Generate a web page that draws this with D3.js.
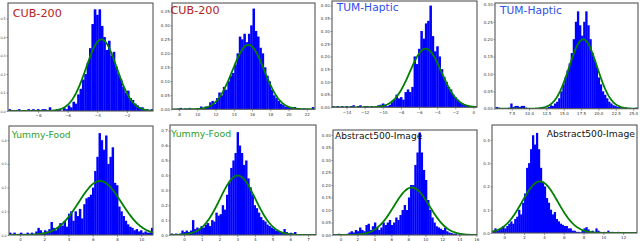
<!DOCTYPE html>
<html>
<head>
<meta charset="utf-8">
<script src="https://cdn.jsdelivr.net/npm/d3@7"></script>
<style>
body { margin: 0; background: #fff; }
svg { display: block; }
.tick text { font-family: "DejaVu Sans", sans-serif; font-size: 4px; fill: #333; }
.tick line { stroke: #555; stroke-width: 0.6; }
</style>
</head>
<body>
<svg id="chart" width="640" height="241"></svg>
<script>
// panel titles and colours
var titles = ["CUB-200", "CUB-200", "TUM-Haptic", "TUM-Haptic",
              "Yummy-Food", "Yummy-Food", "Abstract500-Image", "Abstract500-Image"];

// histogram bins: first edge, bin width, density per bin
var binStart = [-10.0, 7.3, -15.6, 5.2, -0.9, -0.75, -0.8, -1.2];
var binWidth = [0.16, 0.25, 0.25, 0.3, 0.18, 0.12, 0.25, 0.2];

var cubA = [0.01,0,0,0,0.01,0,0,0,0.01,0,
  0.01,0,0.01,0,0.01,0.01,0,0.02,0,0,
  0.01,0.01,0,0.02,0.01,0.03,0.02,0.05,0.04,0.09,
  0.12,0.17,0.2,0.26,0.34,0.47,0.55,0.52,0.55,0.46,
  0.4,0.33,0.38,0.3,0.32,0.24,0.2,0.17,0.13,0.1,
  0.11,0.07,0.06,0.04,0.03,0.02,0.02,0.01,0.01,0,0.01];
var cubB = [0,0,0.003,0.005,0,0.003,0,0.005,0,0,
  0.003,0,0.01,0.005,0.01,0.01,0.025,0.03,0.02,0.04,
  0.06,0.05,0.08,0.07,0.1,0.12,0.13,0.16,0.2,0.26,
  0.25,0.27,0.24,0.27,0.3,0.36,0.28,0.26,0.22,0.2,
  0.15,0.12,0.1,0.07,0.05,0.04,0.03,0.02,0.015,0.01,
  0.01,0.008,0.005,0.008,0,0.003,0,0.003,0,0,
  0,0.008];
var tumA = [0.005,0,0.005,0,0.005,0,0.005,0,0.005,0.008,
  0,0.005,0.008,0,0.005,0.005,0,0.005,0,0.005,
  0.008,0.01,0.015,0.01,0.005,0.01,0.02,0.03,0.05,0.035,
  0.04,0.03,0.06,0.07,0.06,0.08,0.2,0.17,0.23,0.3,
  0.27,0.33,0.34,0.4,0.28,0.22,0.24,0.2,0.15,0.12,
  0.1,0.08,0.07,0.05,0.04,0.03,0.02,0.015,0.01,0.008,
  0.005,0.005,0,0.005];
var tumB = [0.005,0.003,0,0,0,0,0.003,0.015,0.005,0.008,
  0.008,0.005,0.008,0.008,0.003,0,0,0,0,0,
  0,0.003,0.005,0,0.003,0.005,0.01,0.008,0.015,0.02,
  0.03,0.05,0.07,0.09,0.11,0.13,0.16,0.2,0.25,0.28,
  0.24,0.21,0.25,0.28,0.24,0.2,0.16,0.14,0.12,0.09,
  0.07,0.05,0.04,0.03,0.02,0.015,0.01,0.008,0.005,0.005,
  0.003,0,0.003,0,0,0,0,0.003];
var yumA = [0.01,0.005,0.01,0,0.005,0.01,0.005,0.005,0.01,0.005,
  0.01,0.005,0.015,0.03,0.02,0.01,0.02,0.015,0.025,0.055,
  0.03,0.02,0.03,0.05,0.04,0.06,0.035,0.09,0.1,0.06,
  0.1,0.08,0.11,0.07,0.13,0.155,0.16,0.17,0.2,0.27,
  0.33,0.43,0.4,0.36,0.42,0.3,0.33,0.37,0.22,0.21,
  0.12,0.1,0.08,0.06,0.045,0.035,0.03,0.02,0.025,0.015,
  0.02,0.01,0.015,0.01,0.01,0.03];
var yumB = [0.01,0.005,0.01,0.005,0.01,0.03,0.02,0.03,0.02,0.03,
  0.1,0.04,0.05,0.04,0.06,0.05,0.07,0.08,0.06,0.1,
  0.09,0.15,0.13,0.14,0.2,0.17,0.27,0.35,0.45,0.5,
  0.55,0.69,0.6,0.55,0.47,0.5,0.38,0.32,0.27,0.2,
  0.18,0.15,0.12,0.1,0.09,0.07,0.06,0.05,0.04,0.03,
  0.03,0.02,0.02,0.04,0.02,0.01,0.015,0.01,0.02,0.005,
  0.005,0,0.003,0,0,0.003,0,0.003];
var absA = [0.003,0,0.005,0,0.003,0,0.005,0.01,0.015,0.01,
  0.02,0.015,0.03,0.02,0.015,0.04,0.045,0.02,0.035,0.05,
  0.03,0.02,0.03,0.05,0.04,0.05,0.06,0.04,0.05,0.07,
  0.06,0.08,0.1,0.12,0.1,0.15,0.2,0.2,0.28,0.33,
  0.41,0.33,0.26,0.22,0.14,0.1,0.07,0.05,0.035,0.03,
  0.025,0.02,0.03,0.015,0.01,0.008,0.005,0.005,0,0.005,
  0,0.003,0,0,0.003,0,0.003];
var absB = [0.01,0.02,0.01,0.015,0.02,0.03,0.02,0.03,0.04,0.05,
  0.04,0.06,0.07,0.1,0.08,0.13,0.17,0.28,0.3,0.36,
  0.42,0.38,0.43,0.36,0.28,0.22,0.2,0.15,0.13,0.1,
  0.08,0.09,0.06,0.05,0.04,0.035,0.03,0.03,0.02,0.02,
  0.01,0.01,0.005,0.005,0.003,0.01,0.02,0.025,0.015,0.005,
  0.01,0.005,0.02,0.01,0.005,0,0.005,0,0.01,0,
  0.005,0,0,0.005,0,0,0.003,0,0.003,0,
  0,0.003];
var heights = [cubA, cubB, tumA, tumB, yumA, yumB, absA, absB];

// fitted normal curves
var fitMean  = [-3.72, 15.6, -5.27, 17.8, 6.6, 3.03, 8.4, 3.6];
var fitSigma = [1.03, 1.73, 1.73, 2.0, 1.75, 1.0, 2.1, 1.8];

// axis ranges and ticks
var xDomains = [[-10.03, -0.24], [7.23, 22.9], [-15.6, 0.4], [5.1, 25.7],
                [-0.9, 10.97], [-0.79, 7.45], [-0.87, 16.08], [-1.24, 13.4]];
var yTops = [0.584, 0.38, 0.418, 0.304, 0.46, 0.738, 0.42, 0.464];
var xTicks = [[-8,-6,-4,-2], [8,10,12,14,16,18,20,22], [-14,-12,-10,-8,-6,-4,-2,0],
              [7.5,10,12.5,15,17.5,20,22.5,25], [0,2,4,6,8,10], [0,1,2,3,4,5,6,7],
              [0,2,4,6,8,10,12,14,16], [0,2,4,6,8,10,12]];
var yTicks = [[0,0.1,0.2,0.3,0.4,0.5], [0,0.05,0.1,0.15,0.2,0.25,0.3,0.35],
              [0,0.05,0.1,0.15,0.2,0.25,0.3,0.35,0.4], [0,0.05,0.1,0.15,0.2,0.25,0.3],
              [0,0.1,0.2,0.3,0.4], [0,0.1,0.2,0.3,0.4,0.5,0.6,0.7],
              [0,0.05,0.1,0.15,0.2,0.25,0.3,0.35,0.4], [0,0.1,0.2,0.3,0.4]];
var xFmt = ["d", "d", "d", ".1f", "d", "d", "d", "d"];
var yFmt = [".1f", ".2f", ".2f", ".2f", ".1f", ".1f", ".2f", ".1f"];

// layout (pixels)
var boxes = [
  { l: 8,   t: 3,   r: 153, b: 111 },
  { l: 172, t: 3,   r: 315, b: 109.3 },
  { l: 332, t: 1,   r: 477, b: 107.3 },
  { l: 495, t: 3,   r: 638, b: 108.7 },
  { l: 9,   t: 126, r: 153, b: 235 },
  { l: 170, t: 125, r: 316, b: 235 },
  { l: 333, t: 130, r: 477, b: 235 },
  { l: 492, t: 125, r: 637, b: 233 }
];
var titleStyle = [
  { x: 12.7, y: 16.5, size: 11.2, color: "#b22222" },
  { x: 170.5, y: 14, size: 11.2, color: "#b22222" },
  { x: 336.7, y: 10.7, size: 10.7, color: "#2f4fe8" },
  { x: 500, y: 14, size: 10.7, color: "#2f4fe8" },
  { x: 11.7, y: 138.3, size: 9.2, color: "#2ca02c" },
  { x: 171, y: 136.7, size: 9.4, color: "#2ca02c" },
  { x: 335, y: 139.3, size: 9.1, color: "#111" },
  { x: 546.7, y: 136.7, size: 9.2, color: "#111" }
];

var svg = d3.select("#chart");
svg.append("rect").attr("width", 640).attr("height", 241).attr("fill", "#fff");

titles.forEach(function (title, p) {
  var box = boxes[p];
  var x = d3.scaleLinear().domain(xDomains[p]).range([box.l, box.r]);
  var y = d3.scaleLinear().domain([0, yTops[p]]).range([box.b, box.t]);
  var g = svg.append("g");

  g.append("clipPath").attr("id", "clip" + p)
    .append("rect")
    .attr("x", box.l).attr("y", box.t)
    .attr("width", box.r - box.l).attr("height", box.b - box.t);

  var plot = g.append("g").attr("clip-path", "url(#clip" + p + ")");

  // histogram bars
  plot.selectAll("rect.bar")
    .data(heights[p])
    .enter()
    .append("rect")
    .attr("class", "bar")
    .attr("x", function (d, i) { return x(binStart[p] + i * binWidth[p]); })
    .attr("width", function (d, i) {
      return x(binStart[p] + (i + 1) * binWidth[p]) - x(binStart[p] + i * binWidth[p]) + 0.25;
    })
    .attr("y", function (d) { return y(d); })
    .attr("height", function (d) { return box.b - y(d); })
    .attr("fill", "#0000ff");

  // fitted normal
  var mu = fitMean[p], sd = fitSigma[p];
  var xs = d3.range(0, 241).map(function (k) {
    return xDomains[p][0] + k * (xDomains[p][1] - xDomains[p][0]) / 240;
  });
  var line = d3.line()
    .x(function (v) { return x(v); })
    .y(function (v) {
      return y(Math.exp(-0.5 * Math.pow((v - mu) / sd, 2)) / (sd * Math.sqrt(2 * Math.PI)));
    });
  plot.append("path")
    .datum(xs)
    .attr("d", line)
    .attr("fill", "none")
    .attr("stroke", "#008000")
    .attr("stroke-width", 1.8);

  // axes
  var xAxis = d3.axisBottom(x).tickValues(xTicks[p]).tickSize(2).tickPadding(1.5)
    .tickFormat(d3.format(xFmt[p]));
  var yAxis = d3.axisLeft(y).tickValues(yTicks[p]).tickSize(1.5).tickPadding(0.8)
    .tickFormat(d3.format(yFmt[p]));
  g.append("g").attr("transform", "translate(0," + box.b + ")").call(xAxis)
    .call(function (a) { a.select(".domain").remove(); });
  var ya = g.append("g").attr("transform", "translate(" + box.l + ",0)").call(yAxis)
    .call(function (a) { a.select(".domain").remove(); });
  // the first panel sits against the page edge: smaller labels there
  if (box.l < 10) ya.selectAll(".tick text").style("font-size", "3.3px");

  // frame
  g.append("rect")
    .attr("x", box.l).attr("y", box.t)
    .attr("width", box.r - box.l).attr("height", box.b - box.t)
    .attr("fill", "none")
    .attr("stroke", "#555")
    .attr("stroke-width", 1.1);

  // title
  var ts = titleStyle[p];
  g.append("text")
    .attr("x", ts.x).attr("y", ts.y)
    .attr("font-family", "DejaVu Sans, sans-serif")
    .attr("font-size", ts.size)
    .attr("fill", ts.color)
    .text(title);
});
</script>
</body>
</html>
